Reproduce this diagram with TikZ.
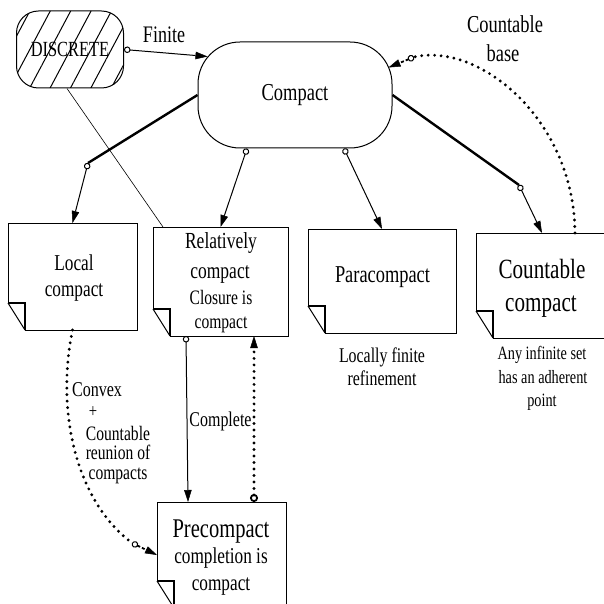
\documentclass[tikz,border=0pt]{standalone}
\usepackage{fontspec}
\setmainfont{Liberation Serif}[FakeStretch=0.76]
\usetikzlibrary{arrows.meta,patterns.meta}

\tikzset{
  fsz/.style={font=\fontsize{#1}{#1}\selectfont},
  lbl/.style={fsz=#1, inner sep=0pt, anchor=base},
  notebox/.style={inner sep=0pt, outer sep=0pt},
  boxline/.style={line width=1pt},
  foldline/.style={line width=1.7pt},
  heavy/.style={line width=2.4pt},
  link/.style={line width=1pt,
    {Circle[open,length=6.5pt,line width=1pt]}-{Triangle[length=12pt,width=7.5pt,line width=0.5pt]}},
  dotline/.style={line width=3.2pt, line cap=round, dash pattern=on 0pt off 6.5pt},
  shortdash/.style={line width=1.8pt, dash pattern=on 3pt off 2pt,
    {Circle[open,length=6.5pt,line width=1pt]}-{Triangle[length=12pt,width=7.5pt,line width=0.5pt]}},
}

% outline of a note with a folded lower-left corner
\newcommand\noteframe[1]{%
  \draw[boxline] ([yshift=27pt]#1.south west) -- (#1.north west) -- (#1.north east)
    -- (#1.south east) -- ([xshift=17pt]#1.south west);
  \draw[foldline] ([yshift=27pt]#1.south west) -- ([xshift=17pt,yshift=27pt]#1.south west)
    -- ([xshift=17pt]#1.south west);
  \draw[boxline] ([yshift=27pt]#1.south west) -- ([xshift=17pt]#1.south west);
}

\begin{document}
\begin{tikzpicture}[x=1pt,y=-1pt]
\useasboundingbox (0,0) rectangle (604,604);
\clip (0,0) rectangle (604,604);

% main shapes
\node[draw, boxline, rounded corners=22pt, minimum width=107pt, minimum height=77pt,
      pattern={Lines[angle=62,distance=18pt,line width=1pt]}, inner sep=0pt, fsz=21.6pt]
      (discrete) at (70,49.5) {DISCRETE};
\node[draw, boxline, rounded corners=42pt, minimum width=194pt, minimum height=106pt,
      inner sep=0pt, fsz=24.3pt] (compact) at (295,95) {Compact};

\node[notebox, minimum width=129pt, minimum height=107pt] (local) at (72.5,276.5) {};
\node[notebox, minimum width=135pt, minimum height=109pt] (relative) at (220.5,281.5) {};
\node[notebox, minimum width=148pt, minimum height=104pt] (para) at (382,281) {};
\node[notebox, minimum width=144pt, minimum height=105pt] (countable) at (548,285.5) {};
\node[notebox, minimum width=129pt, minimum height=106pt] (pre) at (221.5,555) {};
\noteframe{local}
\noteframe{relative}
\noteframe{para}
\noteframe{countable}
\noteframe{pre}

% texts inside the notes
\node[lbl=22.7pt] (tLocalA) at (74,270) {Local};
\node[lbl=22.7pt] (tLocalB) at (74,296) {compact};
\node[lbl=23pt] (tRelA) at (221,248) {Relatively};
\node[lbl=23pt] (tRelB) at (220,278) {compact};
\node[lbl=20.5pt] (tRelC) at (221,304) {Closure is};
\node[lbl=20.5pt] (tRelD) at (221,328) {compact};
\node[lbl=24.2pt] (tPara) at (382.5,282) {Paracompact};
\node[lbl=27.8pt] (tCntA) at (542,278) {Countable};
\node[lbl=27.8pt] (tCntB) at (541,311) {compact};
\node[lbl=27pt] (tPreA) at (221,537) {Precompact};
\node[lbl=22.7pt] (tPreB) at (221,563) {completion is};
\node[lbl=22.7pt] (tPreC) at (221,590) {compact};

% texts under the notes
\node[lbl=20.9pt] (tLfA) at (382,362) {Locally finite};
\node[lbl=20.9pt] (tLfB) at (382,385) {refinement};
\node[lbl=18.8pt] (tAnyA) at (542,359) {Any infinite set};
\node[lbl=18.8pt] (tAnyB) at (543,383) {has an adherent};
\node[lbl=18.8pt] (tAnyC) at (542,406) {point};

% connector labels
\node[lbl=23.7pt] (tFinite) at (164,43) {Finite};
\node[lbl=24.3pt] (tBaseA) at (505,33) {Countable};
\node[lbl=24.3pt] (tBaseB) at (503,62) {base};
\node[lbl=21pt] (tComplete) at (220.5,426) {Complete};
\node[lbl=21.1pt] (tConvA) at (97,396) {Convex};
\node[fsz=19.4pt, inner sep=0pt] (tConvB) at (93,412) {+};
\node[font=\fontsize{20.5pt}{19.5pt}\selectfont, inner sep=0pt, align=center,
      anchor=base] (tConvC) at (118,479) {Countable\\reunion of\\compacts};

% junction and bend points
\coordinate (jL) at (88,163);
\coordinate (jR) at (519,185);
\coordinate (cb) at (414,57);
\coordinate (cc) at (132,543);

% connectors
\draw[link] (discrete.east) -- ([xshift=10pt,yshift=-15pt]compact.north west);
\draw[line width=0.6pt] ([xshift=-3pt]discrete.south) -- ([xshift=10pt]relative.north west);

\draw[heavy] (compact.west) -- (jL);
\draw[link] (jL) -- (local.north);
\draw[link] ([xshift=-48pt]compact.south) -- (relative.north);
\draw[link] ([xshift=49pt]compact.south) -- (para.north);
\draw[heavy] (compact.east) -- (jR);
\draw[link] (jR) -- ([xshift=-6pt]countable.north);

\draw[dotline] ([xshift=27pt]countable.north) .. controls (574,120) and (480,42) .. (cb);
\draw[shortdash] (cb) -- ([xshift=-4pt,yshift=-26pt]compact.north east);

\draw[dotline] (local.south) .. controls (56,410) and (75,500) .. (cc);
\draw[shortdash] (cc) -- (pre.west);

\draw[link] ([xshift=-34.5pt]relative.south) -- ([xshift=-33.5pt]pre.north);
\draw[dotline, {Circle[open,length=8pt,line width=1.8pt]}-{Triangle[length=12pt,width=7.5pt,line width=0.5pt]}]
  ([xshift=32.5pt]pre.north) -- ([xshift=33.5pt]relative.south);
\end{tikzpicture}
\end{document}
